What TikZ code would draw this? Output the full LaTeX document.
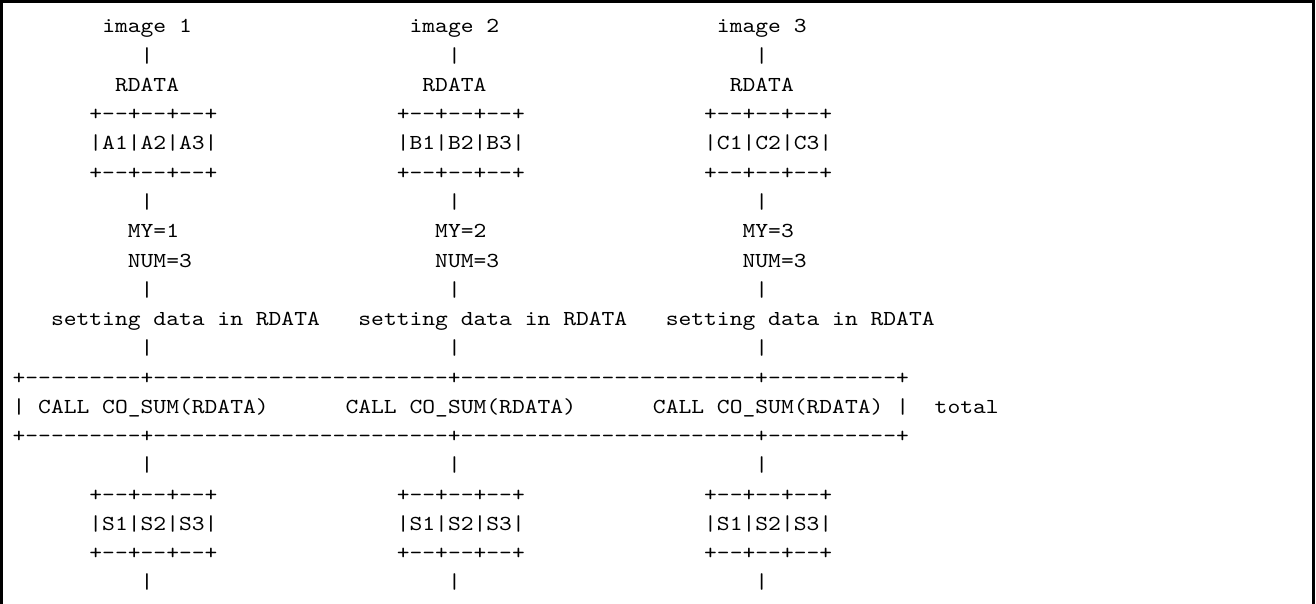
\documentclass[tikz,border=0pt]{standalone}
\usepackage{fontspec}
\setmonofont{lmmono10-regular}[Extension=.otf, FakeStretch=1.14286]
\tikzset{ascii/.style={anchor=base west, inner sep=0pt, outer sep=0pt, font=\ttfamily\fontsize{10.67pt}{13pt}\selectfont},
         frame/.style={line width=1.5pt}}

\begin{document}
\begin{tikzpicture}[x=0.5pt, y=-0.5pt]
  \useasboundingbox (0,0) rectangle (1316,604);
  \draw[frame] (1.5,604) -- (1.5,1.5) -- (1313.5,1.5) -- (1313.5,604);
  \begin{scope}[shift={(12.6,33)}, x=6.4035pt, y=-14.625pt]
    \foreach \i/\L in {1/A,2/B,3/C}
    {%
      \pgfmathtruncatemacro{\c}{24*(\i-1)};
      \node[ascii] (image\i) at (7+\c,0) {image \i};
      \node[ascii] (bar\i-1) at (10+\c,1) {|};
      \node[ascii] (rdata\i) at (8+\c,2) {RDATA};
      \node[ascii] (rtop\i) at (6+\c,3) {+--+--+--+};
      \node[ascii] (rcell\i) at (6+\c,4) {|\L1|\L2|\L3|};
      \node[ascii] (rbot\i) at (6+\c,5) {+--+--+--+};
      \node[ascii] (bar\i-2) at (10+\c,6) {|};
      \node[ascii] (my\i) at (9+\c,7) {MY=\i};
      \node[ascii] (num\i) at (9+\c,8) {NUM=3};
      \node[ascii] (bar\i-3) at (10+\c,9) {|};
      \node[ascii] (set\i) at (3+\c,10) {setting data in RDATA};
      \node[ascii] (bar\i-4) at (10+\c,11) {|};
      \node[ascii] (call\i) at (2+\c,13) {CALL CO\_SUM(RDATA)};
      \node[ascii] (bar\i-5) at (10+\c,15) {|};
      \node[ascii] (stop\i) at (6+\c,16) {+--+--+--+};
      \node[ascii] (scell\i) at (6+\c,17) {|S1|S2|S3|};
      \node[ascii] (sbot\i) at (6+\c,18) {+--+--+--+};
      \node[ascii] (bar\i-6) at (10+\c,19) {|};
    };
    % the CO_SUM call spanning all images
    \node[ascii] (ruletop) at (0,12) {+---------+-----------------------+-----------------------+----------+};
    \node[ascii] (lside) at (0,13) {|};
    \node[ascii] (rside) at (69,13) {|};
    \node[ascii] (total) at (72,13) {total};
    \node[ascii] (rulebot) at (0,14) {+---------+-----------------------+-----------------------+----------+};
  \end{scope}
\end{tikzpicture}
\end{document}
